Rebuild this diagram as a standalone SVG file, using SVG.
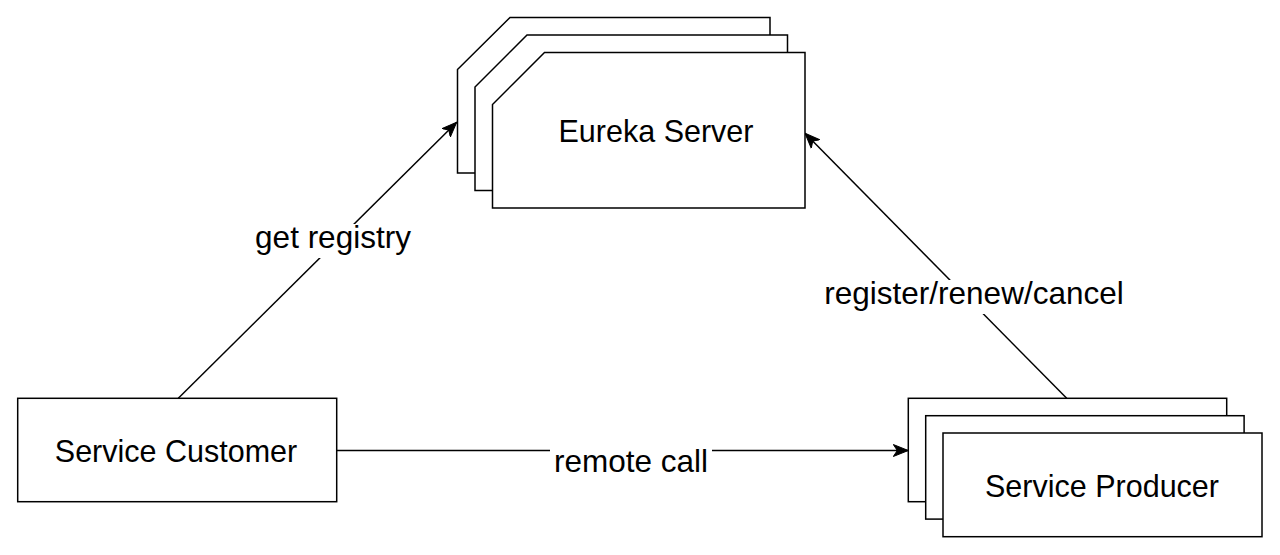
<svg xmlns="http://www.w3.org/2000/svg" width="1280" height="555" viewBox="0 0 1280 555">
<style>
.shape{fill:#ffffff;stroke:#000000;stroke-width:1.5}
.conn{fill:none;stroke:#000000;stroke-width:1.5}
.t{font-family:"Liberation Sans",Arial,sans-serif;font-size:30.5px;fill:#000000;text-anchor:middle}
.lt{font-size:31.5px}
.lbg{fill:#ffffff}
</style>
<defs>
<marker id="arrow" markerUnits="userSpaceOnUse" markerWidth="16" markerHeight="14" viewBox="0 0 16 14" refX="15" refY="7" orient="auto">
<path d="M0,1 L15,7 L0,13 L4,7 Z" fill="#000000" stroke="#000000" stroke-width="1"/>
</marker>
</defs>
<rect width="1280" height="555" fill="#ffffff"/>
<g id="connectors">
<line class="conn" x1="178.3" y1="398.3" x2="456.7" y2="122.3" marker-end="url(#arrow)"/>
<line class="conn" x1="1066.7" y1="398.3" x2="805" y2="133.3" marker-end="url(#arrow)"/>
<line class="conn" x1="336.7" y1="450.5" x2="908.3" y2="450.5" marker-end="url(#arrow)"/>
<rect class="lbg" x="254" y="224" width="158" height="34"/>
<text class="t lt" x="333" y="248.3">get registry</text>
<rect class="lbg" x="818" y="280" width="312" height="34"/>
<text class="t lt" x="974" y="304.3">register/renew/cancel</text>
<rect class="lbg" x="550" y="447" width="162" height="34"/>
<text class="t lt" x="631" y="471.7">remote call</text>
</g>
<g id="eureka-server">
<path class="shape" d="M510,17.5 H770 V173 H457.5 V69.5 Z"/>
<path class="shape" d="M527,35 H787.5 V190.5 H475 V87 Z"/>
<path class="shape" d="M544.5,52.5 H805 V208 H492.5 V104.5 Z"/>
<text class="t" x="656" y="141.7">Eureka Server</text>
</g>
<g id="service-customer">
<rect class="shape" x="17.7" y="398.3" width="319" height="103.4"/>
<text class="t" x="176" y="461.7">Service Customer</text>
</g>
<g id="service-producer">
<rect class="shape" x="908.3" y="398.3" width="318.4" height="103.4"/>
<rect class="shape" x="925.7" y="415.7" width="318.4" height="103.4"/>
<rect class="shape" x="943" y="433" width="319" height="103.7"/>
<text class="t" x="1102" y="496.7">Service Producer</text>
</g>
</svg>
